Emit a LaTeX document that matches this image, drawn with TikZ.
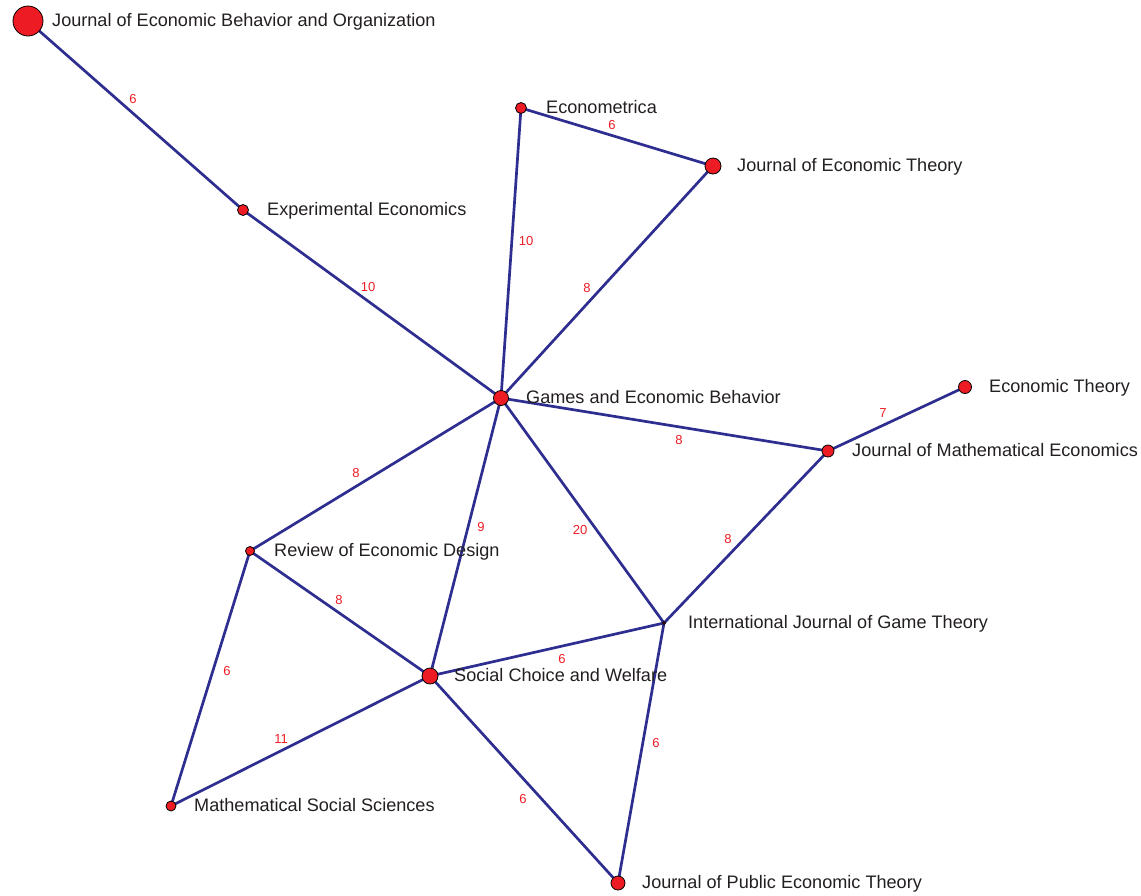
\documentclass[tikz,border=0pt]{standalone}
\usepackage{fontspec}
\setmainfont{Liberation Sans}
\pgfdeclarelayer{background}
\pgfsetlayers{background,main}
\definecolor{edgeblue}{RGB}{46,46,145}
\definecolor{dotred}{RGB}{237,28,36}
\definecolor{txtgray}{RGB}{35,31,32}
\tikzset{
  dot/.style={circle,draw=black,line width=0.8pt,fill=dotred,inner sep=0pt,minimum size=#1},
  jname/.style={anchor=base west,inner sep=0pt,text=txtgray,font=\fontsize{18.1}{20}\selectfont},
  conn/.style={draw=edgeblue,line width=2.7pt},
  wlab/.style={text=dotred,inner sep=0pt,font=\fontsize{13}{14}\selectfont}
}
\begin{document}
\begin{tikzpicture}[x=1pt,y=-1pt]
\useasboundingbox (0,0) rectangle (1141,895);
% nodes
\node[dot=30pt] (jebo) at (28,21) {};
\node[dot=11pt] (ee) at (243,210) {};
\node[dot=11pt] (ecm) at (521,108) {};
\node[dot=16pt] (jet) at (713,166) {};
\node[dot=15pt] (geb) at (501,398) {};
\node[dot=13pt] (et) at (965,387) {};
\node[dot=12pt] (jme) at (828,451) {};
\node[dot=9pt] (red) at (250,551) {};
\node[dot=3pt] (ijgt) at (664,623) {};
\node[dot=16pt] (scw) at (430,676) {};
\node[dot=10pt] (mss) at (171,806) {};
\node[dot=14pt] (jpet) at (618,883) {};
% names
\node[jname] (tjebo) at (52,26) {Journal of Economic Behavior and Organization};
\node[jname] (tee) at (267,215) {Experimental Economics};
\node[jname] (tecm) at (546,113) {Econometrica};
\node[jname] (tjet) at (737,171) {Journal of Economic Theory};
\node[jname] (tgeb) at (526,403) {Games and Economic Behavior};
\node[jname] (tet) at (989,392) {Economic Theory};
\node[jname] (tjme) at (852,456) {Journal of Mathematical Economics};
\node[jname] (tred) at (274,556) {Review of Economic Design};
\node[jname] (tijgt) at (688,628) {International Journal of Game Theory};
\node[jname] (tscw) at (454,681) {Social Choice and Welfare};
\node[jname] (tmss) at (194,811) {Mathematical Social Sciences};
\node[jname] (tjpet) at (642,888) {Journal of Public Economic Theory};
% connectors
\begin{pgfonlayer}{background}
\path[conn] (jebo.center) -- (ee.center) node[wlab] at (133,99) {6};
\path[conn] (ee.center) -- (geb.center) node[wlab] at (368,287) {10};
\path[conn] (ecm.center) -- (jet.center) node[wlab] at (612,125) {6};
\path[conn] (ecm.center) -- (geb.center) node[wlab] at (526,241) {10};
\path[conn] (jet.center) -- (geb.center) node[wlab] at (587,288) {8};
\path[conn] (et.center) -- (jme.center) node[wlab] at (883,413) {7};
\path[conn] (geb.center) -- (jme.center) node[wlab] at (679,440) {8};
\path[conn] (geb.center) -- (red.center) node[wlab] at (356,473) {8};
\path[conn] (geb.center) -- (scw.center) node[wlab] at (481,527) {9};
\path[conn] (geb.center) -- (ijgt.center) node[wlab] at (580,530) {20};
\path[conn] (jme.center) -- (ijgt.center) node[wlab] at (728,539) {8};
\path[conn] (red.center) -- (scw.center) node[wlab] at (339,600) {8};
\path[conn] (red.center) -- (mss.center) node[wlab] at (227,671) {6};
\path[conn] (scw.center) -- (ijgt.center) node[wlab] at (562,659) {6};
\path[conn] (scw.center) -- (mss.center) node[wlab] at (281,739) {11};
\path[conn] (scw.center) -- (jpet.center) node[wlab] at (523,799) {6};
\path[conn] (ijgt.center) -- (jpet.center) node[wlab] at (656,743) {6};
\end{pgfonlayer}
\end{tikzpicture}
\end{document}
